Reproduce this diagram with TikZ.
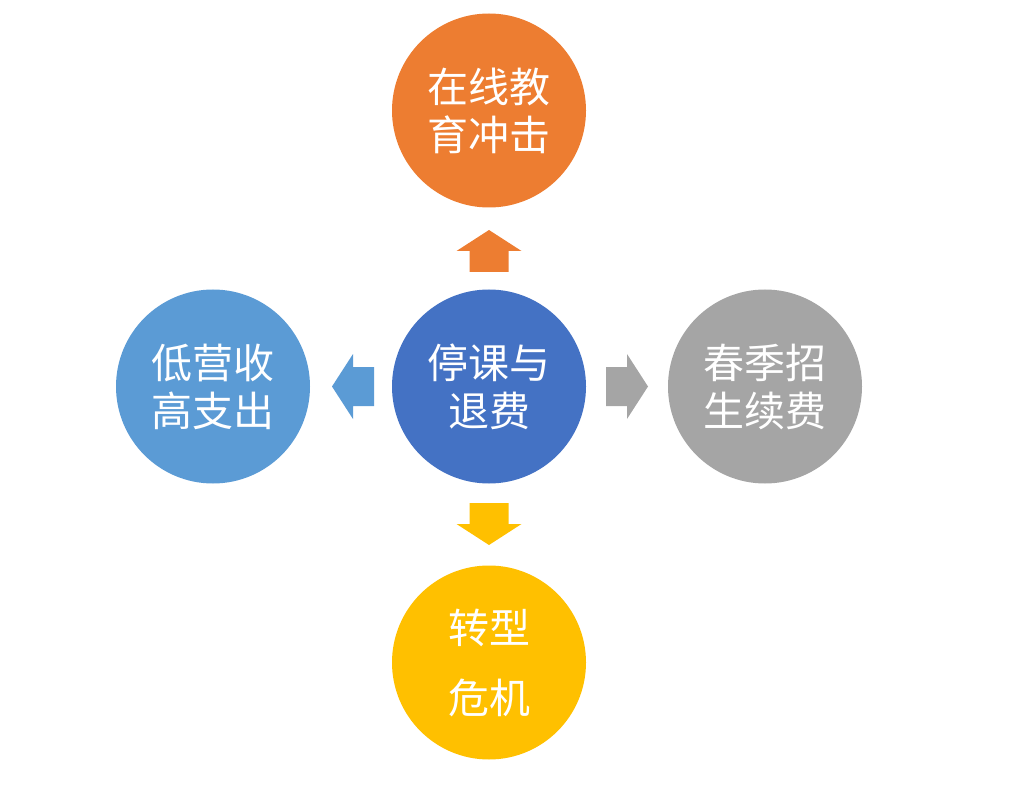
\documentclass[tikz,border=0pt]{standalone}
\usepackage{fontspec}
\newfontfamily\cjk{Noto Sans CJK SC}
\definecolor{offblue}{RGB}{68, 114, 196}
\definecolor{offorange}{RGB}{237, 125, 49}
\definecolor{offlightblue}{RGB}{91, 155, 213}
\definecolor{offgray}{RGB}{165, 165, 165}
\definecolor{offgold}{RGB}{255, 192, 0}
\usetikzlibrary{positioning, calc}

\tikzset{
  topic/.style={circle, minimum size=194pt, inner sep=0pt, text=white,
    align=center, font=\cjk\fontsize{41}{48}\selectfont},
  blockarr/.pic={
    \fill (-21,-19.5) -- (0,-19.5) -- (0,-32.5) -- (21,0) -- (0,32.5)
      -- (0,19.5) -- (-21,19.5) -- cycle;
  }
}

\begin{document}
\begin{tikzpicture}[x=1pt, y=-1pt]
  \useasboundingbox (0,0) rectangle (1028,810);

  % Circles
  \node[topic, fill=offblue] (hub) at (489,386.5) {停课与\\退费};
  \node[topic, fill=offorange] (online) at (489,110.5) {在线教\\育冲击};
  \node[topic, fill=offlightblue] (income) at (213,386.5) {低营收\\高支出};
  \node[topic, fill=offgray] (spring) at (765,386.5) {春季招\\生续费};
  \node[topic, fill=offgold, font=\cjk\fontsize{41}{70}\selectfont] (crisis) at (489,662.5) {转型\\危机};

  % Arrows
  \pic[offorange, rotate=90] at (489,251) {blockarr};
  \pic[offlightblue, rotate=180] at (353,386.5) {blockarr};
  \pic[offgray] at (627,386.5) {blockarr};
  \pic[offgold, rotate=-90] at (489,524) {blockarr};
\end{tikzpicture}
\end{document}
